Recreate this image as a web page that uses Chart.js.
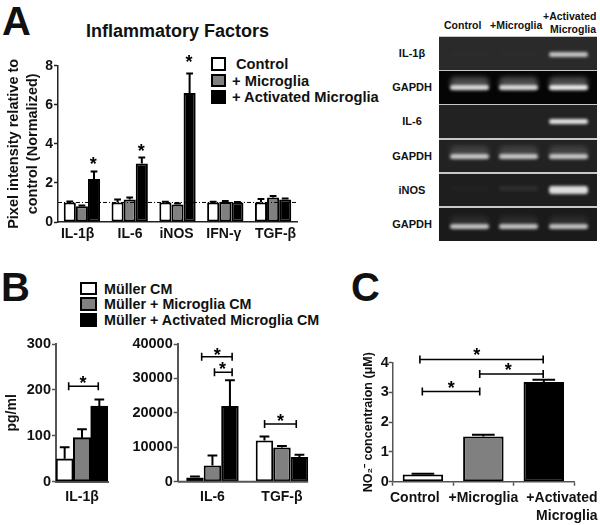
<!DOCTYPE html>
<html>
<head>
<meta charset="utf-8">
<style>
html,body{margin:0;padding:0;background:#fff;width:600px;height:525px;overflow:hidden}
body{position:relative;font-family:"Liberation Sans",Arial,sans-serif;font-weight:bold;color:#111}
canvas{position:absolute}
.t{position:absolute;white-space:nowrap;line-height:1}
.s{position:absolute;box-sizing:border-box;border:2px solid #000}
.row{position:absolute;left:439px;width:158px;overflow:hidden}
.band{position:absolute;filter:blur(1.6px);border-radius:3px}
.halo{position:absolute;filter:blur(2.5px);border-radius:5px}
</style>
</head>
<body>
<div class="t" style="left:2px;top:1px;font-size:40px">A</div>
<div class="t" style="left:1px;top:267px;font-size:40px">B</div>
<div class="t" style="left:351px;top:267px;font-size:40px">C</div>
<div class="t" style="left:86px;top:22px;font-size:18px">Inflammatory Factors</div>

<div class="s" style="left:211px;top:57px;width:15px;height:14px;background:#fff"></div>
<div class="s" style="left:211px;top:74px;width:15px;height:13px;background:#808080"></div>
<div class="s" style="left:211px;top:90px;width:15px;height:14px;background:#000"></div>
<div class="t" style="left:236px;top:57px;font-size:14.700px">Control</div>
<div class="t" style="left:232px;top:73.500px;font-size:14.700px">+ Microglia</div>
<div class="t" style="left:232px;top:90px;font-size:14.700px">+ Activated Microglia</div>

<div class="s" style="left:80px;top:282px;width:17px;height:13px;background:#fff"></div>
<div class="s" style="left:80px;top:297px;width:17px;height:14px;background:#808080"></div>
<div class="s" style="left:80px;top:313px;width:17px;height:14px;background:#000"></div>
<div class="t" style="left:104px;top:282px;font-size:14.300px">Müller CM</div>
<div class="t" style="left:104px;top:297px;font-size:14.300px">Müller + Microglia CM</div>
<div class="t" style="left:104px;top:313px;font-size:14.300px">Müller + Activated Microglia CM</div>

<div class="t" style="left:444px;top:20px;font-size:10.500px">Control</div>
<div class="t" style="left:490px;top:20px;font-size:10.500px">+Microglia</div>
<div class="t" style="left:543px;top:11px;font-size:10.500px">+Activated</div>
<div class="t" style="left:550px;top:24px;font-size:10.500px">Microglia</div>
<div style="position:absolute;left:439px;top:36px;width:158px;height:205px;background:#c8c8c8"></div>
<div id="gel"></div>

<canvas id="chartA" width="300" height="210" style="left:0;top:40px"></canvas>
<canvas id="chartB1" width="120" height="195" style="left:0;top:330px"></canvas>
<canvas id="chartB2" width="205" height="195" style="left:115px;top:330px"></canvas>
<canvas id="chartC" width="260" height="185" style="left:340px;top:340px"></canvas>

<script src="https://cdn.jsdelivr.net/npm/chart.js@4/dist/chart.umd.min.js"></script>
<script>
// ---------- Panel A ----------
const catsA = ["IL-1β", "IL-6", "iNOS", "IFN-γ", "TGF-β"];
const controlA = [1.0, 1.0, 1.0, 1.0, 1.0];
const microgliaA = [0.8, 1.15, 0.9, 1.02, 1.25];
const activatedA = [2.2, 3.0, 6.6, 1.0, 1.15];
const controlErrA = [0.05, 0.15, 0.04, 0.04, 0.18];
const microgliaErrA = [0.05, 0.1, 0.05, 0.05, 0.08];
const activatedErrA = [0.38, 0.3, 1.0, 0.02, 0.05];
const labelPosA = [-0.09, 1.006, 1.98, 2.97, 4.05];
const starsA = [[0.24, 3.08], [1.24, 3.75], [2.24, 8.3]];
const refLineA = 1;

// ---------- Panel B ----------
const catsB1 = ["IL-1β"];
const controlB1 = [50];
const microgliaB1 = [96];
const activatedB1 = [165];
const controlErrB1 = [25];
const microgliaErrB1 = [18];
const activatedErrB1 = [14];
const bracketsB1 = [[-0.256, 0.313, 208]];
const starsB1 = [[0.02, 220]];

const catsB2 = ["IL-6", "TGF-β"];
const controlB2 = [1200, 12000];
const microgliaB2 = [4700, 9900];
const activatedB2 = [22000, 7200];
const controlErrB2 = [300, 1100];
const microgliaErrB2 = [2900, 500];
const activatedErrB2 = [7500, 600];
const bracketsB2 = [[-0.155, 0.283, 36310], [0.029, 0.283, 31780], [0.75, 1.206, 16760]];
const starsB2 = [[0.068, 37400], [0.144, 33400], [0.98, 18300]];

// ---------- Panel C ----------
const catsC = ["Control", "+Microglia", ["+Activated", "Microglia"]];
const valuesC = [0.24, 1.52, 3.35];
const errC = [0.03, 0.06, 0.08];
const labelPosC = [-0.133, 1.0, 2.89];
const labelAlignC = ["center", "center", "right"];
const bracketsC = [[-0.05, 1.99, 4.11], [0.94, 1.99, 3.62], [-0.01, 0.94, 3.03]];
const starsC = [[0.89, 4.32], [1.41, 3.82], [0.47, 3.22]];

// ---------- Gel panel ----------
const gelLabels = ["IL-1β", "GAPDH", "IL-6", "GAPDH", "iNOS", "GAPDH"];
const gelBands = [[0.01, 0.01, 0.72], [0.82, 0.82, 0.9], [0.0, 0.0, 0.88], [0.72, 0.72, 0.72], [0.02, 0.07, 0.85], [0.72, 0.72, 0.72]];
const gelHalo = [0, 0.28, 0, 0.14, 0, 0.08];
const gelBack = ["#2a2a2a", "#050505", "#222222", "#222222", "#1e1e1e", "#1a1a1a"];

const gelTops = [37, 71, 105, 139.5, 173.5, 207.5];
const gelHeights = [32.5, 32.5, 32.5, 32.5, 32.5, 33];
const bandTops = [14.5, 14, 14, 14.5, 12.5, 16];
const laneLefts = [11, 60, 110];
const gel = document.getElementById("gel");
gelLabels.forEach((lab, r) => {
  const row = document.createElement("div");
  row.className = "row";
  row.style.top = gelTops[r] + "px";
  row.style.height = gelHeights[r] + "px";
  row.style.background = gelBack[r];
  gelBands[r].forEach((v, l) => {
    if (gelHalo[r] > 0) {
      const h = document.createElement("div");
      h.className = "halo";
      h.style.left = laneLefts[l] + "px";
      h.style.width = "39px";
      h.style.top = (bandTops[r] - 8) + "px";
      h.style.height = "12px";
      h.style.background = "rgba(255,255,255," + gelHalo[r] + ")";
      row.appendChild(h);
    }
    const b = document.createElement("div");
    b.className = "band";
    b.style.left = laneLefts[l] + "px";
    b.style.width = "39px";
    b.style.top = bandTops[r] + "px";
    b.style.height = (r === 4 && l === 2 ? 8 : 5) + "px";
    b.style.background = "rgba(255,255,255," + v + ")";
    row.appendChild(b);
  });
  gel.appendChild(row);
  const t = document.createElement("div");
  t.className = "t";
  t.style.cssText = "left:392px;width:40px;text-align:center;font-size:11px;top:" + (gelTops[r] + 11) + "px";
  t.textContent = lab;
  gel.appendChild(t);
});

// ---------- Chart helpers ----------
const FONT = '"Liberation Sans", Arial, sans-serif';
const fillers = ["#ffffff", "#808080", "#000000"];

const overlay = {
  id: "overlay",
  afterDatasetsDraw(chart, args, opts) {
    const ctx = chart.ctx, xs = chart.scales.x, ys = chart.scales.y;
    ctx.save();
    ctx.strokeStyle = "#000";
    ctx.fillStyle = "#000";
    // error bars
    chart.data.datasets.forEach((ds, i) => {
      chart.getDatasetMeta(i).data.forEach((bar, j) => {
        const err = ds.errors[j];
        const top = ys.getPixelForValue(ds.data[j] + err);
        const cap = bar.width * 0.28;
        ctx.lineWidth = 2;
        ctx.beginPath();
        ctx.moveTo(bar.x, bar.y);
        ctx.lineTo(bar.x, top);
        ctx.moveTo(bar.x - cap, top);
        ctx.lineTo(bar.x + cap, top);
        ctx.stroke();
      });
    });
    // custom x axis line ending at the last bar
    if (opts.axisToLastBar) {
      const n = chart.data.datasets.length - 1;
      const els = chart.getDatasetMeta(n).data;
      const last = els[els.length - 1];
      ctx.strokeStyle = opts.axisColor;
      ctx.lineWidth = 2;
      ctx.beginPath();
      ctx.moveTo(chart.chartArea.left, chart.chartArea.bottom);
      ctx.lineTo(last.x + last.width / 2, chart.chartArea.bottom);
      ctx.stroke();
      ctx.strokeStyle = "#000";
    }
    // reference line
    if (opts.refLine !== undefined) {
      const y = ys.getPixelForValue(opts.refLine);
      ctx.lineWidth = 1;
      ctx.setLineDash([4, 2, 1, 2]);
      ctx.beginPath();
      ctx.moveTo(chart.chartArea.left, y);
      ctx.lineTo(chart.chartArea.right, y);
      ctx.stroke();
      ctx.setLineDash([]);
    }
    // significance brackets
    (opts.brackets || []).forEach(b => {
      const x0 = xs.getPixelForValue(b[0]), x1 = xs.getPixelForValue(b[1]), y = ys.getPixelForValue(b[2]);
      ctx.lineWidth = 1.6;
      ctx.beginPath();
      ctx.moveTo(x0, y); ctx.lineTo(x1, y);
      ctx.moveTo(x0, y - 4); ctx.lineTo(x0, y + 4);
      ctx.moveTo(x1, y - 4); ctx.lineTo(x1, y + 4);
      ctx.stroke();
    });
    // stars
    ctx.font = "bold 18px " + FONT;
    ctx.textAlign = "center";
    ctx.textBaseline = "middle";
    (opts.stars || []).forEach(s => {
      ctx.fillText("*", xs.getPixelForValue(s[0]), ys.getPixelForValue(s[1]) + 3);
    });
    // category labels placed at their own positions
    if (opts.labelPos) {
      ctx.fillStyle = "#111";
      ctx.font = "bold " + opts.labelFont + "px " + FONT;
      chart.data.labels.forEach((lab, i) => {
        const lines = Array.isArray(lab) ? lab : [lab];
        ctx.textAlign = opts.labelAlign ? opts.labelAlign[i] : "center";
        lines.forEach((line, k) => {
          ctx.fillText(line, xs.getPixelForValue(opts.labelPos[i]), chart.chartArea.bottom + opts.labelDy + k * opts.labelLead);
        });
      });
    }
    ctx.restore();
  }
};

function makeBar(id, cats, series, cfg) {
  const datasets = series.map((s, i) => ({
    data: s.values,
    errors: s.errors,
    backgroundColor: s.color,
    borderColor: "#000",
    borderWidth: 2,
    borderSkipped: false,
    categoryPercentage: cfg.catPct,
    barPercentage: cfg.barPct
  }));
  return new Chart(document.getElementById(id), {
    type: "bar",
    data: { labels: cats, datasets },
    plugins: [overlay],
    options: {
      responsive: false,
      animation: false,
      devicePixelRatio: 1,
      layout: { padding: cfg.padding },
      plugins: {
        legend: { display: false },
        tooltip: { enabled: false },
        overlay: {
          refLine: cfg.refLine,
          brackets: cfg.brackets,
          stars: cfg.stars,
          axisToLastBar: cfg.axisToLastBar,
          axisColor: cfg.axisColor,
          labelPos: cfg.labelPos,
          labelFont: cfg.xFont,
          labelDy: cfg.labelDy,
          labelLead: 18
        }
      },
      scales: {
        x: {
          afterFit: sc => { sc.height = cfg.xHeight; },
          border: { display: !cfg.axisToLastBar, color: cfg.axisColor, width: cfg.axisWidth },
          grid: { drawOnChartArea: false, drawTicks: false },
          ticks: { display: !cfg.labelPos, color: "#111", font: { family: FONT, size: cfg.xFont, weight: "bold" }, padding: cfg.xPad, maxRotation: 0, autoSkip: false }
        },
        y: {
          min: 0, max: cfg.yMax,
          afterFit: sc => { sc.width = cfg.yWidth; },
          border: { color: cfg.axisColor, width: cfg.axisWidth },
          grid: { drawOnChartArea: false, drawTicks: true, tickLength: 4, tickColor: cfg.axisColor, tickWidth: 1.5 },
          ticks: { stepSize: cfg.yStep, callback: v => String(v), color: "#111", padding: 1, font: { family: FONT, size: cfg.yFont, weight: "bold" } },
          title: cfg.yTitle ? { display: true, text: cfg.yTitle, color: "#111", padding: { top: cfg.titlePad, bottom: 0 }, font: { family: FONT, size: cfg.titleFont, weight: "bold", lineHeight: cfg.titleLH } } : { display: false }
        }
      }
    }
  });
}

makeBar("chartA", catsA, [
  { values: controlA, errors: controlErrA, color: fillers[0] },
  { values: microgliaA, errors: microgliaErrA, color: fillers[1] },
  { values: activatedA, errors: activatedErrA, color: fillers[2] }
], {
  catPct: 0.76, barPct: 1, padding: { top: 25.7, right: 3, left: 0, bottom: 0 },
  refLine: refLineA, stars: starsA, axisColor: "#222", axisWidth: 1.5, xHeight: 28, xFont: 14, xPad: 5,
  labelPos: labelPosA, labelDy: 12,
  yMax: 8, yStep: 2, yWidth: 58, yFont: 14, yTitle: ["Pixel intensity relative to", "control (Normalized)"], titlePad: 5, titleFont: 14.5, titleLH: 1.3
});

makeBar("chartB1", catsB1, [
  { values: controlB1, errors: controlErrB1, color: fillers[0] },
  { values: microgliaB1, errors: microgliaErrB1, color: fillers[1] },
  { values: activatedB1, errors: activatedErrB1, color: fillers[2] }
], {
  catPct: 1, barPct: 1, padding: { top: 14, right: 12, left: 0, bottom: 0 },
  brackets: bracketsB1, stars: starsB1, axisColor: "#555", axisWidth: 2, xHeight: 43.3, xFont: 14, xPad: 7,
  yMax: 300, yStep: 100, yWidth: 56, yFont: 14.5, yTitle: "pg/ml", titlePad: 4, titleFont: 14, titleLH: 1.2
});

makeBar("chartB2", catsB2, [
  { values: controlB2, errors: controlErrB2, color: fillers[0] },
  { values: microgliaB2, errors: microgliaErrB2, color: fillers[1] },
  { values: activatedB2, errors: activatedErrB2, color: fillers[2] }
], {
  catPct: 0.755, barPct: 1, padding: { top: 14, right: 3.3, left: 0, bottom: 0 },
  brackets: bracketsB2, stars: starsB2, axisToLastBar: true, axisColor: "#555", axisWidth: 2, xHeight: 43.3, xFont: 14, xPad: 7,
  yMax: 40000, yStep: 10000, yWidth: 62.7, yFont: 14.5
});

new Chart(document.getElementById("chartC"), {
  type: "bar",
  data: {
    labels: catsC,
    datasets: [{
      data: valuesC,
      errors: errC,
      backgroundColor: fillers,
      borderColor: "#000",
      borderWidth: 2,
      borderSkipped: false,
      categoryPercentage: 0.67,
      barPercentage: 1
    }]
  },
  plugins: [overlay],
  options: {
    responsive: false,
    animation: false,
    devicePixelRatio: 1,
    layout: { padding: { top: 22.7, right: 26, left: 0, bottom: 0 } },
    plugins: {
      legend: { display: false },
      tooltip: { enabled: false },
      overlay: { brackets: bracketsC, stars: starsC, labelPos: labelPosC, labelAlign: labelAlignC, labelFont: 14, labelDy: 16.5, labelLead: 18 }
    },
    scales: {
      x: {
        afterFit: sc => { sc.height = 43.3; },
        border: { color: "#555", width: 1.5 },
        grid: { drawOnChartArea: false, drawTicks: true, tickLength: 4, tickColor: "#555", tickWidth: 1.5 },
        ticks: { display: false }
      },
      y: {
        min: 0, max: 4,
        afterFit: sc => { sc.width = 52.7; },
        border: { color: "#555", width: 1.5 },
        grid: { drawOnChartArea: false, drawTicks: true, tickLength: 4, tickColor: "#555", tickWidth: 1.5 },
        ticks: { stepSize: 1, color: "#111", padding: 0, font: { family: FONT, size: 14.5, weight: "bold" } },
        title: { display: true, text: "NO₂⁻ concentraion (μM)", color: "#111", padding: { top: 21, bottom: 0 }, font: { family: FONT, size: 12.5, weight: "bold" } }
      }
    }
  }
});
</script>
</body>
</html>
